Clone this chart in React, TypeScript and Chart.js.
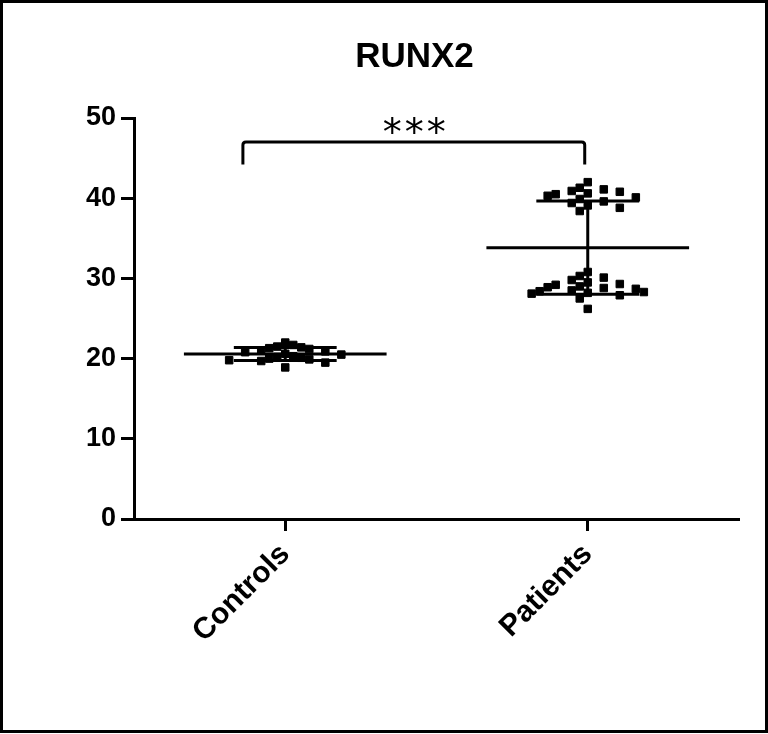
import { useEffect, useRef } from "react";
import { Chart, registerables } from "chart.js";

Chart.register(...registerables);

const chartTitle = "RUNX2";
const categories = ["Controls", "Patients"];
const controlValues = [
	22.0, 21.7, 21.5, 21.4, 21.3, 21.2, 21.0, 20.9, 20.8, 20.6, 20.5, 20.3, 20.2,
	20.1, 20.0, 19.9, 19.8, 19.7, 19.5, 18.9,
];
const patientValues = [
	42.0, 41.3, 41.1, 40.9, 40.8, 40.6, 40.5, 40.3, 40.1, 39.9, 39.6, 39.4, 39.1,
	38.8, 38.4, 30.8, 30.3, 30.1, 29.8, 29.5, 29.3, 29.2, 29.0, 28.9, 28.8, 28.7,
	28.5, 28.4, 28.3, 28.2, 28.1, 27.9, 27.5, 26.2,
];
const yTicks = [0, 10, 20, 30, 40, 50];
const significance = "***";

// approximate pixel scale, used only to spread equal values side by side
const X_PX = 302;
const Y_PX = 8.04;
const MARK = 8;

const swarm = (values: number[], center: number) => {
	const placed: { x: number; y: number }[] = [];
	const sorted = [...values].sort((a, b) => b - a);
	for (const v of sorted) {
		for (let i = 0; i < 60; i++) {
			const off = (i % 2 === 1 ? 1 : -1) * Math.ceil(i / 2) * (MARK / X_PX);
			const x = center + off;
			const free = placed.every(
				(p) =>
					Math.abs(p.y - v) * Y_PX >= MARK * 1.3 ||
					Math.abs(p.x - x) * X_PX >= MARK,
			);
			if (free) {
				placed.push({ x, y: v });
				break;
			}
		}
	}
	return placed;
};

const stats = (values: number[]) => {
	const mean = values.reduce((s, v) => s + v, 0) / values.length;
	const sd = Math.sqrt(
		values.reduce((s, v) => s + (v - mean) ** 2, 0) / (values.length - 1),
	);
	return { mean, sd };
};

const groups = [controlValues, patientValues];

const meanSdPlugin = {
	id: "meanSd",
	afterDatasetsDraw(chart: Chart) {
		const { ctx, scales } = chart;
		const x = scales.x;
		const y = scales.y;
		ctx.save();
		ctx.strokeStyle = "#000";
		ctx.lineWidth = 3;
		groups.forEach((vals, i) => {
			const { mean, sd } = stats(vals);
			const line = (x0: number, x1: number, v0: number, v1: number) => {
				ctx.beginPath();
				ctx.moveTo(x.getPixelForValue(x0), y.getPixelForValue(v0));
				ctx.lineTo(x.getPixelForValue(x1), y.getPixelForValue(v1));
				ctx.stroke();
			};
			line(i - 0.335, i + 0.335, mean, mean);
			line(i, i, mean - sd, mean + sd);
			line(i - 0.17, i + 0.17, mean + sd, mean + sd);
			line(i - 0.17, i + 0.17, mean - sd, mean - sd);
		});

		// significance bracket
		const left = x.getPixelForValue(-0.14);
		const right = x.getPixelForValue(0.99);
		const top = y.getPixelForValue(47);
		const foot = y.getPixelForValue(44.2);
		ctx.lineJoin = "round";
		ctx.beginPath();
		ctx.moveTo(left, foot);
		ctx.lineTo(left, top + 3);
		ctx.quadraticCurveTo(left, top, left + 3, top);
		ctx.lineTo(right - 3, top);
		ctx.quadraticCurveTo(right, top, right, top + 3);
		ctx.lineTo(right, foot);
		ctx.stroke();
		ctx.fillStyle = "#000";
		ctx.font = '38px "DejaVu Sans"';
		ctx.textAlign = "center";
		ctx.textBaseline = "middle";
		(ctx as any).letterSpacing = "3px";
		ctx.fillText(significance, (left + right) / 2 + 2, y.getPixelForValue(47.9));
		(ctx as any).letterSpacing = "0px";

		// title
		ctx.font = 'bold 35px "Liberation Sans", Arial, sans-serif';
		ctx.fillText(chartTitle, (x.left + x.right) / 2 - 22, 54);
		ctx.restore();
	},
};

const App = () => {
	const chartRef = useRef<HTMLCanvasElement | null>(null);

	useEffect(() => {
		if (!chartRef.current) return;
		const tickFont = {
			family: '"Liberation Sans", Arial, sans-serif',
			size: 27,
			weight: "bold" as const,
		};
		const chart = new Chart(chartRef.current, {
			type: "scatter",
			data: {
				datasets: groups.map((vals, i) => ({
					label: categories[i],
					data: swarm(vals, i),
					pointStyle: "rect",
					pointRadius: 5.3,
					backgroundColor: "#000",
					borderColor: "#000",
					borderWidth: 1,
				})),
			},
			plugins: [meanSdPlugin],
			options: {
				animation: false,
				responsive: true,
				maintainAspectRatio: false,
				layout: { padding: { top: 115, right: 26, left: 0, bottom: 0 } },
				plugins: {
					legend: { display: false },
					tooltip: { enabled: false },
				},
				scales: {
					x: {
						type: "linear",
						min: -0.5,
						max: 1.5,
						afterBuildTicks: (scale) => {
							scale.ticks = categories.map((_, i) => ({ value: i }));
						},
						afterFit: (scale) => {
							scale.height = 211;
						},
						ticks: {
							autoSkip: false,
							maxRotation: 45,
							minRotation: 45,
							padding: 6,
							color: "#000",
							font: { ...tickFont, size: 30 },
							callback: (v) => categories[Number(v)] ?? "",
						},
						grid: {
							drawOnChartArea: false,
							drawTicks: true,
							tickLength: 12,
							tickWidth: 3,
							tickColor: "#000",
						},
						border: { display: true, color: "#000", width: 3 },
					},
					y: {
						min: 0,
						max: 50,
						afterBuildTicks: (scale) => {
							scale.ticks = yTicks.map((value) => ({ value }));
						},
						afterFit: (scale) => {
							scale.width = 131;
						},
						ticks: {
							padding: 5,
							color: "#000",
							font: tickFont,
						},
						grid: {
							drawOnChartArea: false,
							drawTicks: true,
							tickLength: 13,
							tickWidth: 3,
							tickColor: "#000",
						},
						border: { display: true, color: "#000", width: 3 },
					},
				},
			},
		});
		return () => {
			chart.destroy();
		};
	}, []);

	return (
		<div
			style={{
				position: "absolute",
				left: 0,
				top: 0,
				width: 768,
				height: 733,
				boxSizing: "border-box",
				border: "3px solid #000",
				background: "#fff",
			}}
		>
			<div style={{ position: "relative", width: 762, height: 727 }}>
				<canvas ref={chartRef} />
			</div>
		</div>
	);
};

export default App;
